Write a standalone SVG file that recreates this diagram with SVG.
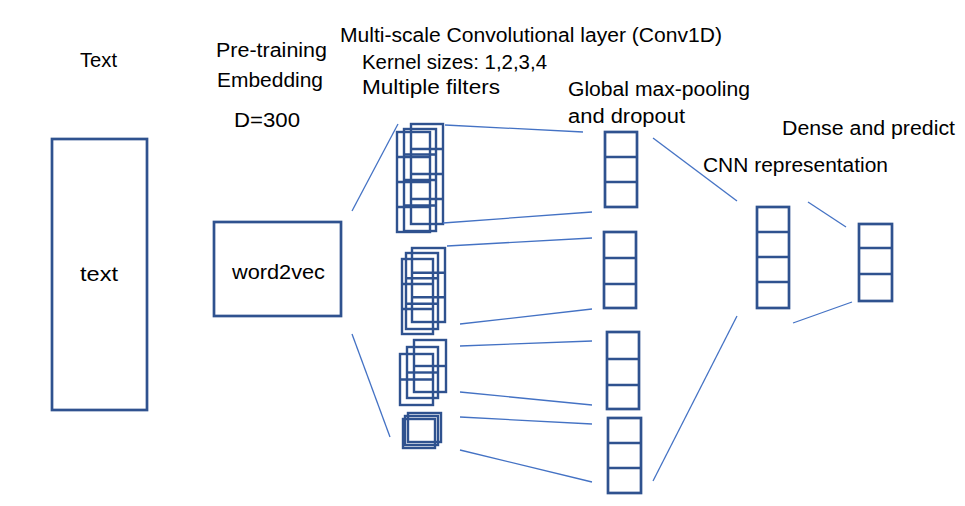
<svg xmlns="http://www.w3.org/2000/svg" width="965" height="506" viewBox="0 0 965 506">
<style>
.t{font-family:"Liberation Sans",Arial,sans-serif;font-size:20px;fill:#000}
.b{fill:none;stroke:#2F528F;stroke-width:2.7}
.c{fill:none;stroke:#2F528F;stroke-width:2.4}
.ln{stroke:#4472C4;stroke-width:1.3;fill:none}
</style>
<rect width="965" height="506" fill="#fff"/>
<g id="labels">
<text class="t" x="80" y="67" textLength="37" lengthAdjust="spacingAndGlyphs">Text</text>
<text class="t" x="216" y="57" textLength="111" lengthAdjust="spacingAndGlyphs">Pre-training</text>
<text class="t" x="217" y="87" textLength="106" lengthAdjust="spacingAndGlyphs">Embedding</text>
<text class="t" x="234" y="127" textLength="66" lengthAdjust="spacingAndGlyphs">D=300</text>
<text class="t" x="340" y="42" textLength="382" lengthAdjust="spacingAndGlyphs">Multi-scale Convolutional layer (Conv1D)</text>
<text class="t" x="362" y="69" textLength="185" lengthAdjust="spacingAndGlyphs">Kernel sizes: 1,2,3,4</text>
<text class="t" x="362" y="94" textLength="138" lengthAdjust="spacingAndGlyphs">Multiple filters</text>
<text class="t" x="568" y="96" textLength="182" lengthAdjust="spacingAndGlyphs">Global max-pooling</text>
<text class="t" x="568" y="123" textLength="117" lengthAdjust="spacingAndGlyphs">and dropout</text>
<text class="t" x="782" y="135" textLength="173" lengthAdjust="spacingAndGlyphs">Dense and predict</text>
<text class="t" x="703" y="172" textLength="185" lengthAdjust="spacingAndGlyphs">CNN representation</text>
</g>
<g id="text-node">
<rect class="b" x="52" y="139" width="95" height="271"/>
<text class="t" x="80" y="281" textLength="38" lengthAdjust="spacingAndGlyphs">text</text>
</g>
<g id="word2vec">
<rect class="b" x="214" y="222" width="127" height="94"/>
<text class="t" x="232" y="279" textLength="93" lengthAdjust="spacingAndGlyphs">word2vec</text>
</g>
<g id="filters-k4">
<rect class="c" x="411" y="124" width="32" height="100"/>
<path class="c" d="M411 149H443M411 174H443M411 199H443"/>
<rect class="c" x="404" y="129" width="32" height="102"/>
<path class="c" d="M404 154.5H436M404 180H436M404 205.5H436"/>
<rect class="c" x="397" y="132" width="33" height="100"/>
<path class="c" d="M397 157H430M397 182H430M397 207H430"/>
</g>
<g id="filters-k3">
<rect class="c" x="412" y="248" width="33" height="74"/>
<path class="c" d="M412 272.7H445M412 297.3H445"/>
<rect class="c" x="406" y="253" width="32" height="76"/>
<path class="c" d="M406 278.3H438M406 303.7H438"/>
<rect class="c" x="402" y="259" width="31" height="75"/>
<path class="c" d="M402 284H433M402 309H433"/>
</g>
<g id="filters-k2">
<rect class="c" x="414" y="340" width="32" height="52"/>
<path class="c" d="M414 366H446"/>
<rect class="c" x="407" y="347" width="31" height="51"/>
<path class="c" d="M407 372.5H438"/>
<rect class="c" x="400" y="354" width="33" height="51"/>
<path class="c" d="M400 379.5H433"/>
</g>
<g id="filters-k1">
<rect class="c" x="408" y="413" width="33" height="29"/>
<rect class="c" x="405" y="416" width="33" height="29"/>
<rect class="c" x="403" y="419" width="32" height="29"/>
</g>
<g id="pool-1">
<rect class="b" x="605" y="132" width="32" height="75"/>
<path class="b" d="M605 157H637M605 182H637"/>
</g>
<g id="pool-2">
<rect class="b" x="604" y="232" width="32" height="76"/>
<path class="b" d="M604 258H636M604 284H636"/>
</g>
<g id="pool-3">
<rect class="b" x="607" y="332" width="32" height="77"/>
<path class="b" d="M607 359H639M607 385H639"/>
</g>
<g id="pool-4">
<rect class="b" x="608" y="418" width="33" height="75"/>
<path class="b" d="M608 443H641M608 468H641"/>
</g>
<g id="cnn-representation">
<rect class="b" x="757" y="207" width="32" height="101"/>
<path class="b" d="M757 232H789M757 257H789M757 282H789"/>
</g>
<g id="dense">
<rect class="b" x="859" y="224" width="33" height="77"/>
<path class="b" d="M859 248H892M859 274H892"/>
</g>
<g id="connectors">
<line class="ln" x1="352" y1="211" x2="398" y2="124"/>
<line class="ln" x1="352" y1="334" x2="390" y2="437"/>
<line class="ln" x1="445" y1="125" x2="583" y2="132"/>
<line class="ln" x1="443" y1="223" x2="592" y2="212"/>
<line class="ln" x1="447" y1="246" x2="592" y2="238"/>
<line class="ln" x1="460" y1="324" x2="592" y2="309"/>
<line class="ln" x1="460" y1="346" x2="592" y2="341"/>
<line class="ln" x1="460" y1="392" x2="592" y2="405"/>
<line class="ln" x1="460" y1="417" x2="592" y2="424"/>
<line class="ln" x1="460" y1="450" x2="592" y2="482"/>
<line class="ln" x1="653" y1="138" x2="737" y2="201"/>
<line class="ln" x1="653" y1="481" x2="737" y2="316"/>
<line class="ln" x1="808" y1="202" x2="846" y2="227"/>
<line class="ln" x1="793" y1="323" x2="852" y2="302"/>
</g>
</svg>
